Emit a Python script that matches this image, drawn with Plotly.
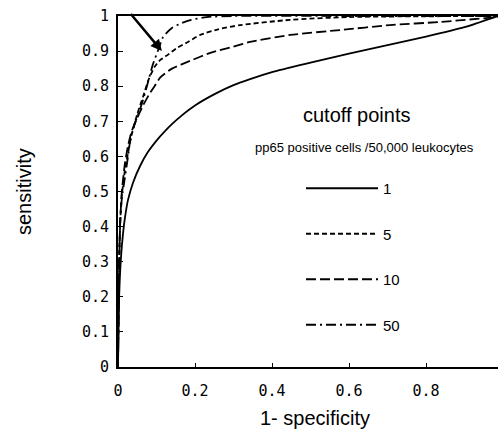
import plotly.graph_objects as go

# ---- data ----
series_names = ["1", "5", "10", "50"]

x_c1 = [0, 0.003, 0.007, 0.013, 0.018, 0.026, 0.039, 0.057, 0.078, 0.1, 0.122, 0.14,
        0.166, 0.2, 0.252, 0.3, 0.343, 0.4, 0.5, 0.6, 0.7, 0.8, 0.9, 0.987]
y_c1 = [0, 0.2, 0.3, 0.38, 0.425, 0.476, 0.525, 0.572, 0.613, 0.645, 0.672, 0.692,
        0.717, 0.745, 0.778, 0.803, 0.82, 0.84, 0.867, 0.893, 0.917, 0.941, 0.968, 1.0]

x_c5 = [0, 0.003, 0.006, 0.01, 0.018, 0.026, 0.035, 0.05, 0.065, 0.08, 0.095, 0.11, 0.13,
        0.153, 0.182, 0.213, 0.26, 0.317, 0.447, 0.6, 0.987]
y_c5 = [0, 0.3, 0.42, 0.49, 0.56, 0.61, 0.66, 0.72, 0.77, 0.82, 0.855, 0.875, 0.89,
        0.909, 0.926, 0.946, 0.962, 0.974, 0.989, 0.997, 1.0]

x_c10 = [0, 0.003, 0.006, 0.01, 0.018, 0.026, 0.035, 0.05, 0.065, 0.08, 0.095, 0.11, 0.14,
         0.187, 0.24, 0.3, 0.343, 0.447, 0.577, 0.706, 0.836, 0.987]
y_c10 = [0, 0.3, 0.42, 0.5, 0.58, 0.63, 0.67, 0.71, 0.745, 0.775, 0.8, 0.825, 0.85,
         0.872, 0.895, 0.913, 0.926, 0.946, 0.96, 0.974, 0.983, 0.997]

x_c50 = [0, 0.003, 0.006, 0.01, 0.018, 0.026, 0.032, 0.044, 0.062, 0.075, 0.09, 0.105,
         0.117, 0.14, 0.166, 0.19, 0.23, 0.3, 0.6, 0.987]
y_c50 = [0, 0.3, 0.42, 0.48, 0.54, 0.6, 0.647, 0.695, 0.75, 0.8, 0.86, 0.905,
         0.94, 0.966, 0.98, 0.989, 0.997, 1.0, 1.0, 1.0]

x_tickvals = [0, 0.2, 0.4, 0.6, 0.8]
x_ticktext = ["0", "0.2", "0.4", "0.6", "0.8"]
y_tickvals = [0, 0.1, 0.2, 0.3, 0.4, 0.5, 0.6, 0.7, 0.8, 0.9, 1]
y_ticktext = ["0", "0.1", "0.2", "0.3", "0.4", "0.5", "0.6", "0.7", "0.8", "0.9", "1"]

arrow_tip = [0.114, 0.90]
arrow_tail = [0.03, 1.01]

FONT = "Liberation Sans, Arial, sans-serif"
MONO = "DejaVu Sans Mono, monospace"

W, H = 498, 436
L, T, B = 118, 16, 69
PW, PH = W - L, H - T - B


def px(xp):
    return (xp - L) / PW


def py(yp):
    return (H - B - yp) / PH


fig = go.Figure()
styles = [
    ("solid", x_c1, y_c1),
    ("5px,3px", x_c5, y_c5),
    ("10px,4px", x_c10, y_c10),
    ("10px,4px,2px,4px", x_c50, y_c50),
]
for name, (dash, xs, ys) in zip(series_names, styles):
    fig.add_trace(go.Scatter(
        x=xs, y=ys, mode="lines", name=name, legendgroup=name,
        line=dict(color="black", width=1.8, dash=dash, shape="spline", smoothing=0.6),
    ))

fig.add_annotation(x=arrow_tip[0], y=arrow_tip[1], ax=arrow_tail[0], ay=arrow_tail[1],
                   xref="x", yref="y", axref="x", ayref="y", text="",
                   showarrow=True, arrowhead=2, arrowsize=0.9, arrowwidth=2.5, arrowcolor="black")

ann = dict(xref="paper", yref="paper", showarrow=False, xanchor="center", yanchor="middle")
fig.add_annotation(text="cutoff points", x=px(356), y=py(115),
                   font=dict(family=FONT, size=20, color="black"), **ann)
fig.add_annotation(text="pp65 positive cells /50,000 leukocytes", x=px(364), y=py(147),
                   font=dict(family=FONT, size=13, color="black"), **ann)
fig.add_annotation(text="sensitivity", textangle=-90, x=px(24), y=py(192),
                   font=dict(family=FONT, size=20, color="black"), **ann)
fig.add_annotation(text="1- specificity", x=px(315), y=py(418),
                   font=dict(family=FONT, size=20, color="black"), **ann)

fig.update_layout(
    width=W, height=H,
    margin=dict(l=L, r=0, t=T, b=B),
    paper_bgcolor="white", plot_bgcolor="white",
    showlegend=True,
    legend=dict(x=px(301), y=py(172), xanchor="left", yanchor="top",
                bgcolor="rgba(0,0,0,0)", borderwidth=0, itemwidth=72,
                tracegroupgap=23, font=dict(family=FONT, size=15, color="black")),
    xaxis=dict(range=[0, 0.987], showgrid=False, zeroline=False, showline=True,
               linecolor="black", linewidth=2, mirror=True, ticks="inside", ticklen=4,
               tickcolor="black", tickvals=x_tickvals, ticktext=x_ticktext,
               ticklabelstandoff=9,
               tickfont=dict(family=MONO, size=15, color="black")),
    yaxis=dict(range=[0, 1], showgrid=False, zeroline=False, showline=True,
               linecolor="black", linewidth=2, ticks="inside", ticklen=5,
               tickcolor="black", tickvals=y_tickvals, ticktext=y_ticktext,
               ticklabelstandoff=4,
               tickfont=dict(family=MONO, size=15, color="black")),
)

fig.write_html("out.html", config={"displayModeBar": False},
               post_script="document.body.style.margin='0';document.body.style.overflow='hidden';")
